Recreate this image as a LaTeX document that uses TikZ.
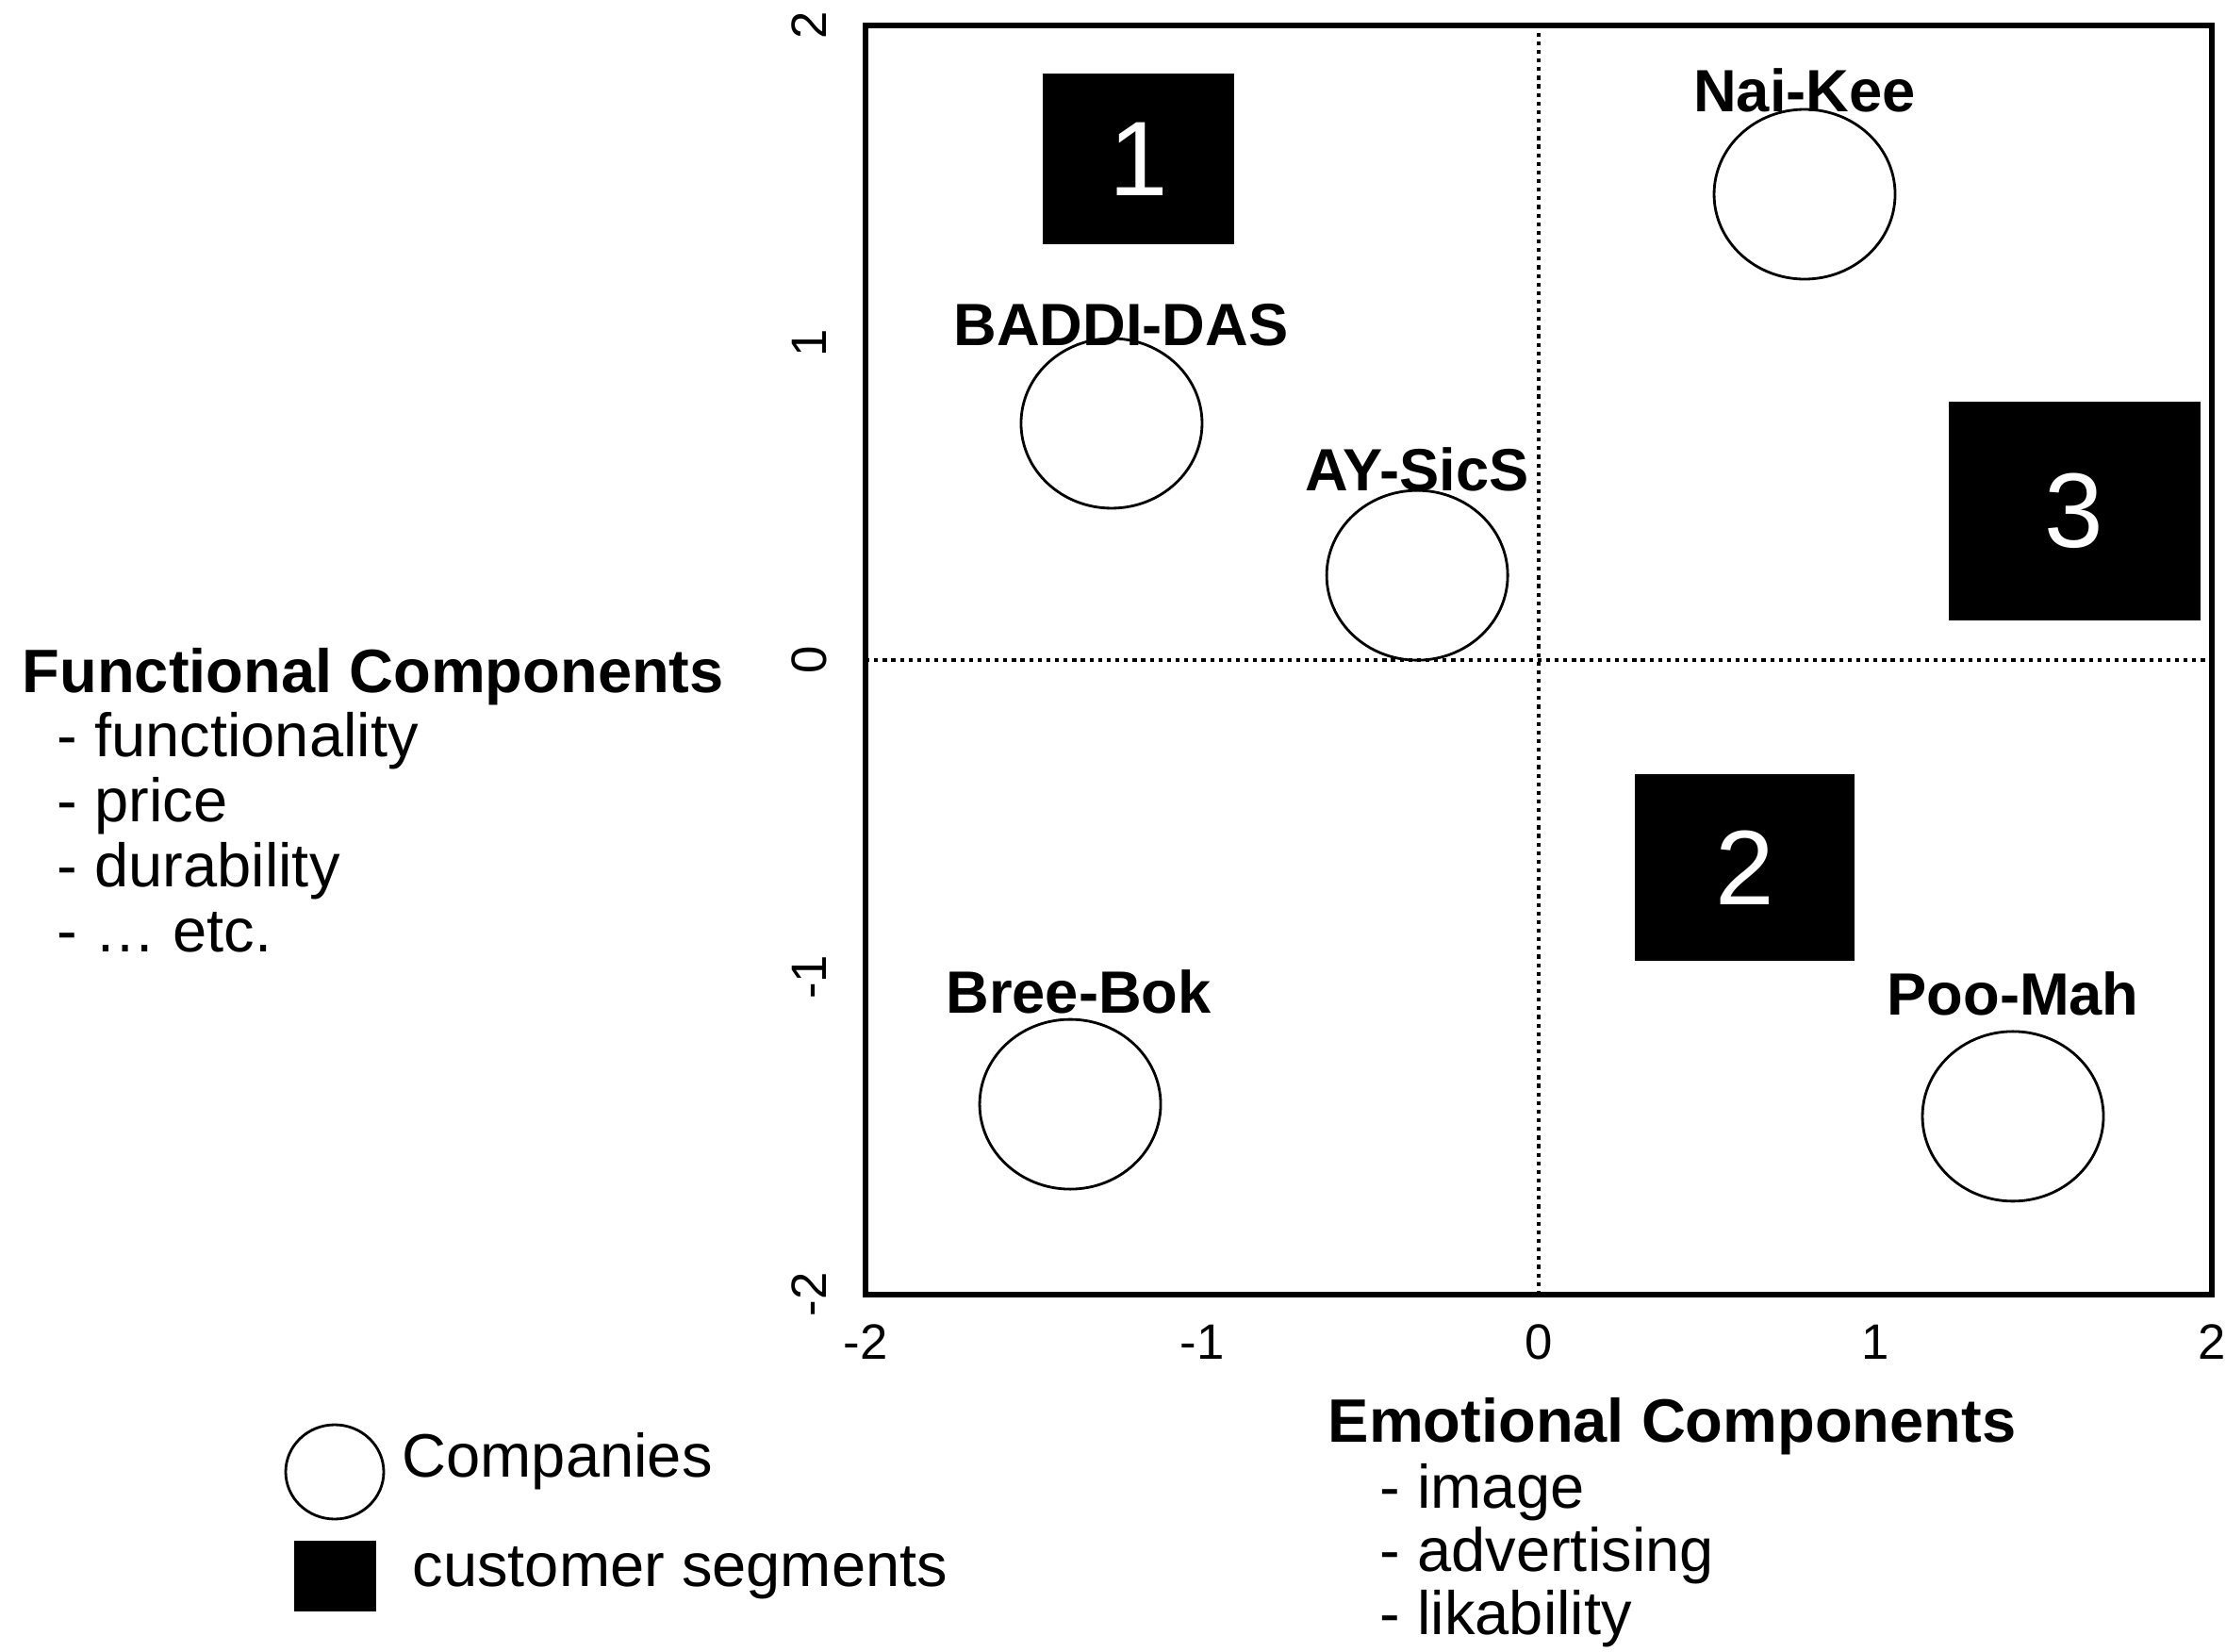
\documentclass[tikz,border=0pt]{standalone}
\usepackage{fontspec}
\setmainfont{Liberation Sans}
\usetikzlibrary{shapes.geometric,positioning}

\tikzset{
  company/.style={draw, ellipse, line width=0.8pt, minimum width=1.92cm, minimum height=1.80cm, inner sep=0pt},
  compname/.style={font=\fontsize{18}{18}\selectfont\bfseries, inner sep=0pt},
  segment/.style={fill=black, text=white, inner sep=0pt, font=\fontsize{32}{32}\selectfont},
  ticklabel/.style={font=\fontsize{15}{15}\selectfont, inner sep=0pt},
  headtext/.style={font=\fontsize{18.5}{18.5}\selectfont\bfseries, inner sep=0pt, anchor=base west},
  itemtext/.style={font=\fontsize{18.5}{18.5}\selectfont, inner sep=0pt, anchor=base west},
  zeroline/.style={line width=1.4pt, dash pattern=on 1.2pt off 1.4pt},
}

\begin{document}
\begin{tikzpicture}
\useasboundingbox (0,0) rectangle (23.61,17.51);
\begin{scope}[shift={(16.32,10.51)}, x=3.57cm, y=3.365cm]
  % frame and zero lines
  \draw[line width=1.6pt] (-2,-2) rectangle (2,2);
  \draw[zeroline] (0,-2) -- (0,2);
  \draw[zeroline] (-2,0) -- (2,0);
  % tick labels
  \foreach \v in {-2,...,2} {
    \node[ticklabel] (xt\v) at (\v,-2.149) {\v};
    \node[ticklabel, rotate=90] (yt\v) at (-2.168,\v) {\v};
  }
  % customer segments
  \node[segment, minimum width=2.03cm, minimum height=1.81cm] (seg1) at (-1.188,1.578) {1};
  \node[segment, minimum width=2.33cm, minimum height=1.98cm] (seg2) at (0.613,-0.654) {2};
  \node[segment, minimum width=2.67cm, minimum height=2.32cm] (seg3) at (1.591,0.470) {3};
  % companies
  \node[company] (naikee) at (0.79,1.468) {};
  \node[compname, above=-0.05cm of naikee] (naikee-l) {Nai-Kee};
  \node[company] (baddidas) at (-1.269,0.746) {};
  \node[compname, above=-0.10cm of baddidas, xshift=0.1cm] (baddidas-l) {BADDI-DAS};
  \node[company] (aysics) at (-0.361,0.267) {};
  \node[compname, above=-0.03cm of aysics] (aysics-l) {AY-SicS};
  \node[company] (breebok) at (-1.392,-1.400) {};
  \node[compname, above=0.04cm of breebok, xshift=0.09cm] (breebok-l) {Bree-Bok};
  \node[company] (poomah) at (1.409,-1.438) {};
  \node[compname, above=0.15cm of poomah] (poomah-l) {Poo-Mah};
\end{scope}

% axis descriptions
\node[headtext] (func) at (0.23,10.16) {Functional Components};
\foreach \t/\y [count=\i] in {functionality/9.49, price/8.80, durability/8.11, {\textellipsis\ etc.}/7.42}
  \node[itemtext] (func\i) at (0.60,\y) {- \t};
\node[headtext] (emo) at (14.08,2.22) {Emotional Components};
\foreach \t/\y [count=\i] in {image/1.52, advertising/0.85, likability/0.18}
  \node[itemtext] (emo\i) at (14.63,\y) {- \t};

% legend
\node[draw, ellipse, line width=0.8pt, minimum width=1.04cm, minimum height=1.00cm, inner sep=0pt] (leg-comp) at (3.55,1.90) {};
\node[itemtext] (leg-comp-t) at (4.26,1.85) {Companies};
\node[fill=black, minimum width=0.87cm, minimum height=0.75cm, inner sep=0pt] (leg-seg) at (3.555,0.80) {};
\node[itemtext] (leg-seg-t) at (4.37,0.69) {customer segments};
\end{tikzpicture}
\end{document}
